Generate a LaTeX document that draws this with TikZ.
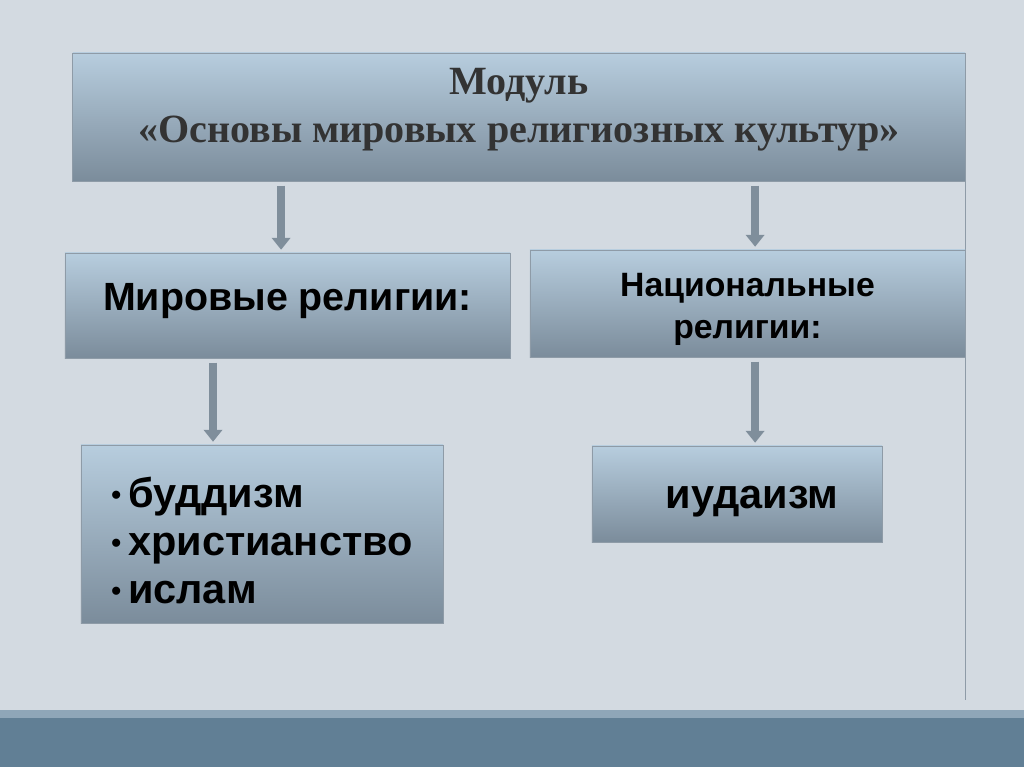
\documentclass[tikz,border=0pt]{standalone}
\usepackage{fontspec}
\setmainfont{Liberation Serif}
\setsansfont{Liberation Sans}
\usetikzlibrary{positioning, arrows.meta, calc}
\definecolor{slideBg}{HTML}{D3DAE1}
\definecolor{bandDark}{HTML}{617F95}
\definecolor{bandLight}{HTML}{8FA6B8}
\definecolor{boxTop}{HTML}{B7CDDE}
\definecolor{boxBot}{HTML}{7B8C9B}
\definecolor{boxLine}{HTML}{8E9BA7}
\definecolor{arrGray}{HTML}{7F8E9B}
\tikzset{
  box/.style={draw=boxLine, line width=0.6pt, top color=boxTop, bottom color=boxBot,
              inner sep=0pt, align=center, text=black},
  boxTitle/.style={box, font=\rmfamily\bfseries\fontsize{28.5}{34.5}\selectfont, text=black!80},
  boxHead/.style={box, font=\sffamily\bfseries\fontsize{28}{30}\selectfont},
  boxList/.style={box, font=\sffamily\bfseries\fontsize{29.5}{34}\selectfont, align=left},
  blockarr/.style={arrGray, line width=5.5pt, shorten <=3pt, shorten >=2pt,
                   -{Triangle[width=13pt, length=8.5pt]}},
}
\newcommand{\blt}{\raisebox{2pt}{\fontsize{20}{20}\selectfont•}\,}

\begin{document}
\begin{tikzpicture}[x=0.025cm, y=-0.025cm]
  \useasboundingbox (0,0) rectangle (1024,767);
  % slide background and bottom band
  \fill[slideBg] (0,0) rectangle (1024,767);
  \fill[bandLight] (0,710) rectangle (1024,718);
  \fill[bandDark] (0,718) rectangle (1024,767);
  \draw[boxLine, line width=0.5pt] (965,181) -- (965,700);
  % boxes
  \node[boxTitle, text depth=16.5pt, minimum width=22.3cm, minimum height=3.2cm] (mod) at (519,117)
    {Модуль\\«Основы мировых религиозных культур»};
  \node[boxHead, text depth=12pt, minimum width=11.125cm, minimum height=2.625cm] (mir) at (287.5,305.5)
    {Мировые религии:};
  \node[boxHead, font=\sffamily\bfseries\fontsize{24}{30}\selectfont,
        minimum width=10.875cm, minimum height=2.675cm] (nat) at (747.5,303.5)
    {\rule{0pt}{25pt}Национальные\\религии:};
  \node[boxList, minimum width=9.05cm, minimum height=4.45cm] (lst) at (262,534)
    {\rule{0pt}{31pt}\blt буддизм\\\blt христианство\\\blt ислам};
  \node[boxList, align=center, minimum width=7.25cm, minimum height=2.4cm] (jud) at (737,494)
    {\rule{0pt}{27pt}\hspace{0.75cm}иудаизм};
  % arrows
  \draw[blockarr] ([xshift=-0.16cm]mod.south -| mir.north) -- ([xshift=-0.16cm]mir.north);
  \draw[blockarr] ([xshift=0.19cm]mod.south -| nat.north) -- ([xshift=0.19cm]nat.north);
  \coordinate (mirout) at ($(mir.south west)!0.333!(mir.south east)$);
  \draw[blockarr] (mirout) -- (mirout |- lst.north);
  \draw[blockarr] ([xshift=0.19cm]nat.south) -- ([xshift=0.19cm]nat.south |- jud.north);
\end{tikzpicture}
\end{document}
